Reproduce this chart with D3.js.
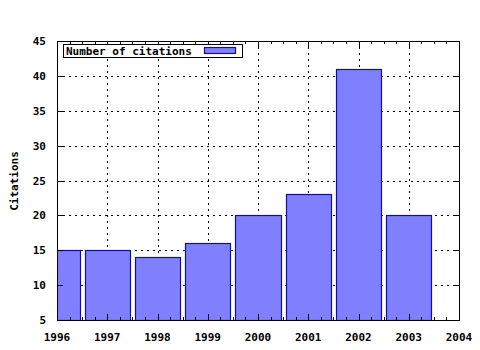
<!DOCTYPE html>
<meta charset="utf-8">
<head>
  <title>Citations per year</title>
</head>

<style>
body {
  margin: 0;
  background: #fff;
}
text {
  font-family: "DejaVu Sans Mono", monospace;
  font-size: 11px;
  font-weight: bold;
  fill: #000;
}
</style>

<body>
  <div id="content">
    <svg width="480" height="350"></svg>
  </div>

  <script src="https://cdnjs.cloudflare.com/ajax/libs/d3/7.8.5/d3.min.js"></script>

  <script>
var years = [1996, 1997, 1998, 1999, 2000, 2001, 2002, 2003];
var citations = [15, 15, 14, 16, 20, 23, 41, 20];
var xTicks = [1996, 1997, 1998, 1999, 2000, 2001, 2002, 2003, 2004];
var yTicks = [5, 10, 15, 20, 25, 30, 35, 40, 45];
var seriesName = 'Number of citations';
var yLabel = 'Citations';

var svg = d3.select('#content svg');

var pLeft = 57, pRight = 459, pTop = 41, pBottom = 320;

var x = d3.scaleLinear().domain([1996, 2004]).range([pLeft, pRight]);
var y = d3.scaleLinear().domain([5, 45]).range([pBottom, pTop]);

function px(v) { return Math.round(x(v)) + 0.5; }
function py(v) { return Math.round(y(v)) + 0.5; }

// grid
var grid = svg.append('g')
  .attr('stroke', '#000')
  .attr('stroke-width', 1)
  .attr('stroke-dasharray', '2,4');

grid.selectAll('line.gx')
  .data(xTicks.slice(1, -1))
  .enter().append('line')
  .attr('x1', px).attr('x2', px)
  .attr('y1', pTop).attr('y2', pBottom);

grid.selectAll('line.gy')
  .data(yTicks.slice(1, -1))
  .enter().append('line')
  .attr('x1', pLeft).attr('x2', pRight)
  .attr('y1', py).attr('y2', py);

// bars, clipped to plot area
svg.append('clipPath').attr('id', 'clip')
  .append('rect')
  .attr('x', pLeft).attr('y', pTop)
  .attr('width', pRight - pLeft).attr('height', pBottom - pTop);

var bw = 0.9;
svg.append('g')
  .attr('clip-path', 'url(#clip)')
  .selectAll('rect')
  .data(years)
  .enter().append('rect')
  .attr('x', d => px(d - bw / 2))
  .attr('width', d => Math.round(x(d + bw / 2)) - Math.round(x(d - bw / 2)))
  .attr('y', (d, i) => py(citations[i]))
  .attr('height', (d, i) => pBottom - Math.round(y(citations[i])))
  .attr('fill', '#8080ff')
  .attr('stroke', '#0f0f9a')
  .attr('stroke-width', 1.2);

// ticks (inward, both sides)
var ticks = svg.append('g').attr('stroke', '#000').attr('stroke-width', 1);

var minor = [];
xTicks.slice(0, -1).forEach(function(t) {
  [0.25, 0.5, 0.75].forEach(function(f) { minor.push(t + f); });
});

[[pBottom, -6], [pTop, 6]].forEach(function(s) {
  ticks.selectAll(null)
    .data(xTicks)
    .enter().append('line')
    .attr('x1', px).attr('x2', px)
    .attr('y1', s[0]).attr('y2', s[0] + s[1]);
  ticks.selectAll(null)
    .data(minor)
    .enter().append('line')
    .attr('x1', px).attr('x2', px)
    .attr('y1', s[0]).attr('y2', s[0] + s[1] / 2);
});

[[pLeft, 6], [pRight, -6]].forEach(function(s) {
  ticks.selectAll(null)
    .data(yTicks)
    .enter().append('line')
    .attr('x1', s[0]).attr('x2', s[0] + s[1])
    .attr('y1', py).attr('y2', py);
});

// border
svg.append('rect')
  .attr('x', pLeft + 0.5).attr('y', pTop + 0.5)
  .attr('width', pRight - pLeft).attr('height', pBottom - pTop)
  .attr('fill', 'none')
  .attr('stroke', '#000')
  .attr('stroke-width', 1);

// tick labels
svg.selectAll('text.xl')
  .data(xTicks)
  .enter().append('text')
  .attr('class', 'xl')
  .attr('x', d => x(d))
  .attr('y', 341)
  .attr('text-anchor', 'middle')
  .text(d => d);

svg.selectAll('text.yl')
  .data(yTicks)
  .enter().append('text')
  .attr('class', 'yl')
  .attr('x', 46)
  .attr('y', d => y(d) + 4)
  .attr('text-anchor', 'end')
  .text(d => d);

svg.append('text')
  .attr('transform', 'translate(18,181) rotate(-90)')
  .attr('text-anchor', 'middle')
  .text(yLabel);

// legend
var lg = svg.append('g');
lg.append('rect')
  .attr('x', 63.5).attr('y', 44.5)
  .attr('width', 179).attr('height', 13)
  .attr('fill', '#fff')
  .attr('stroke', '#000');
lg.append('text')
  .attr('x', 66).attr('y', 55)
  .text(seriesName);
lg.append('rect')
  .attr('x', 204.5).attr('y', 47.5)
  .attr('width', 31).attr('height', 6)
  .attr('fill', '#8080ff')
  .attr('stroke', '#0f0f9a')
  .attr('stroke-width', 1.2);
  </script>
</body>
</html>
